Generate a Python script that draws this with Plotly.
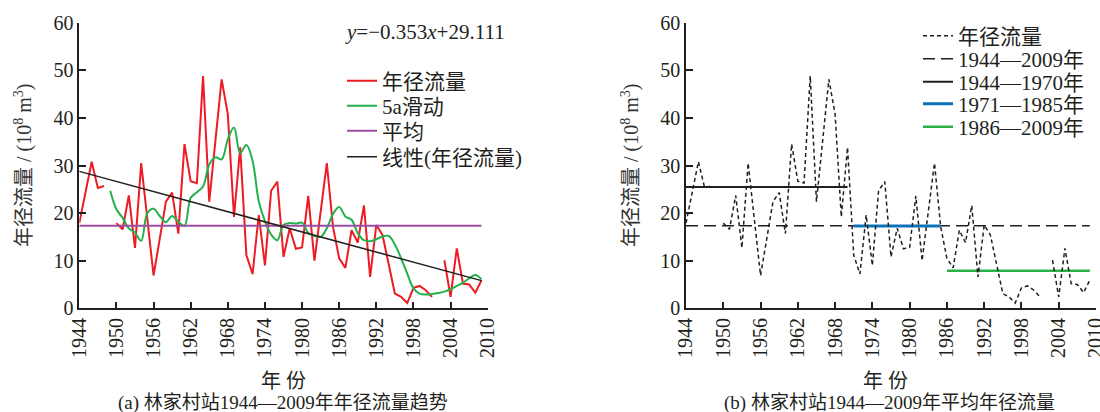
import plotly.graph_objects as go

# ---------------- data ----------------
years = list(range(1944, 2010))
runoff = [17.9, 24.3, 30.8, 25.3, 25.7, None, 17.9, 16.6, 23.7, 12.7,
          30.5, 18.7, 6.9, 14.6, 22.4, 24.3, 15.7, 34.5, 26.7, 26.3,
          48.8, 22.4, 35.0, 48.1, 40.8, 19.2, 33.8, 11.2, 7.2, 19.6,
          9.0, 24.7, 26.6, 10.8, 16.8, 12.5, 12.8, 23.6, 10.0, 20.0,
          30.5, 17.1, 10.5, 8.5, 16.4, 13.8, 21.6, 6.6, 17.5, 15.4,
          9.0, 3.1, 2.4, 1.1, 4.3, 4.7, 3.8, 2.4, None, 10.1,
          2.4, 12.6, 5.2, 5.0, 3.3, 5.9]

ma_years = list(range(1949, 2010))
ma5 = [24.7, 20.8, 19.0, 16.8, 15.9, 14.2, 20.0, 20.9, 19.4, 18.1,
       19.4, 18.2, 17.3, 23.2, 24.4, 25.6, 30.2, 31.7, 31.3, 35.5,
       38.0, 32.6, 34.3, 31.0, 22.5, 18.3, 15.5, 14.3, 17.5, 17.9,
       17.8, 18.0, 15.8, 15.2, 15.0, 16.8, 19.8, 21.3, 19.3, 18.6,
       15.8, 14.3, 14.1, 14.5, 15.1, 15.2, 13.4, 10.5, 7.3, 4.2,
       3.1, 2.9, 3.0, 3.2, 3.5, 4.0, 4.7, 5.4, 6.3, 7.0, 6.1]

mean_years = [1944, 2009]
mean_all = 17.35
trend_years = [1944, 2009]
trend_vals = [28.76, 5.81]

period_labels = ["1944\u20141970年", "1971\u20141985年", "1986\u20142009年"]
period_starts = [1944, 1971, 1986]
period_ends = [1970, 1985, 2009]
period_means = [25.5, 17.3, 7.9]

x_ticks = [1944, 1950, 1956, 1962, 1968, 1974, 1980, 1986, 1992, 1998, 2004, 2010]
y_ticks = [0, 10, 20, 30, 40, 50, 60]

# ---------------- styling ----------------
FONT = "Liberation Serif, Noto Sans CJK SC, serif"
TXT = "#231f20"
W, H = 1100, 412


def px_x(p):
    return p / W


def px_y(p):
    return 1 - p / H


period_colors = ["#231f20", "#0b72b9", "#2bb04a"]
period_widths = [2, 3, 2.5]

# legend rows (pixel centres) for each legend item
left_leg_rows = [81, 106, 131, 157]
right_leg_rows = [36, 59, 82, 104, 127]
LEFT_LEG_X = 342
RIGHT_LEG_X = 918

fig = go.Figure()

# left panel
fig.add_trace(go.Scatter(x=years, y=runoff, mode="lines", name="年径流量",
                         line=dict(color="#ed1c24", width=2), connectgaps=False,
                         xaxis="x", yaxis="y", legend="legend"))
fig.add_trace(go.Scatter(x=ma_years, y=ma5, mode="lines", name="5a滑动",
                         line=dict(color="#22b14c", width=2, shape="spline", smoothing=1),
                         xaxis="x", yaxis="y", legend="legend2"))
fig.add_trace(go.Scatter(x=mean_years, y=[mean_all, mean_all], mode="lines", name="平均",
                         line=dict(color="#9b4d9f", width=2),
                         xaxis="x", yaxis="y", legend="legend3"))
fig.add_trace(go.Scatter(x=trend_years, y=trend_vals, mode="lines", name="线性(年径流量)",
                         line=dict(color="#231f20", width=1.5),
                         xaxis="x", yaxis="y", legend="legend4"))

# right panel
fig.add_trace(go.Scatter(x=mean_years, y=[mean_all, mean_all], mode="lines", name="1944\u20142009年",
                         line=dict(color="#231f20", width=1.5, dash="12px,6px"),
                         xaxis="x2", yaxis="y2", legend="legend6"))
for k, (lab, s, e, m, c, w) in enumerate(zip(period_labels, period_starts, period_ends,
                                             period_means, period_colors, period_widths)):
    fig.add_trace(go.Scatter(x=[s, e], y=[m, m], mode="lines", name=lab,
                             line=dict(color=c, width=w),
                             xaxis="x2", yaxis="y2", legend="legend%d" % (7 + k)))
fig.add_trace(go.Scatter(x=years, y=runoff, mode="lines", name="年径流量",
                         line=dict(color="#231f20", width=1.5, dash="4px,3px"), connectgaps=False,
                         xaxis="x2", yaxis="y2", legend="legend5"))

for tr in fig.data:
    tr.showlegend = True

ydom = [px_y(308.3), px_y(22.7)]
axis_common = dict(showline=True, linecolor="#231f20", linewidth=1.5, showgrid=False,
                   zeroline=False, ticks="inside", ticklen=7, tickwidth=1.5, automargin=False,
                   ticklabeloverflow="allow",
                   tickcolor="#231f20", tickfont=dict(family=FONT, size=20, color=TXT))

layout = dict(
    width=W, height=H, margin=dict(l=0, r=0, t=0, b=0, autoexpand=False),
    paper_bgcolor="white", plot_bgcolor="white", showlegend=True,
    font=dict(family=FONT, color=TXT),
    xaxis=dict(domain=[px_x(79.3), px_x(487.7)], range=[1944, 2010], tickvals=x_ticks,
               tickangle=-90, anchor="y", **axis_common),
    yaxis=dict(domain=ydom, range=[0, 60], tickvals=y_ticks, anchor="x", **axis_common),
    xaxis2=dict(domain=[px_x(686), px_x(1096)], range=[1944, 2010], tickvals=x_ticks,
                tickangle=-90, anchor="y2", **axis_common),
    yaxis2=dict(domain=ydom, range=[0, 60], tickvals=y_ticks, anchor="x2", **axis_common),
)

leg_common = dict(xanchor="left", yanchor="middle", bgcolor="rgba(0,0,0,0)",
                  font=dict(family=FONT, size=21, color=TXT), borderwidth=0, visible=True)
for k, row in enumerate(left_leg_rows):
    key = "legend" if k == 0 else "legend%d" % (k + 1)
    layout[key] = dict(x=px_x(LEFT_LEG_X), y=px_y(row), **leg_common)
for k, row in enumerate(right_leg_rows):
    layout["legend%d" % (k + 5)] = dict(x=px_x(RIGHT_LEG_X), y=px_y(row), **leg_common)

fig.update_layout(**layout)

annos = [
    dict(text="<i>y</i>=\u22120.353<i>x</i>+29.111", x=px_x(343), y=px_y(32), xanchor="left",
         yanchor="middle", size=21, color=TXT),
    dict(text="年径流量 / (10<sup>8</sup> m<sup>3</sup>)", x=px_x(23), y=px_y(166),
         textangle=-90, xanchor="center", yanchor="middle", size=20, color="#333333"),
    dict(text="年径流量 / (10<sup>8</sup> m<sup>3</sup>)", x=px_x(630), y=px_y(166),
         textangle=-90, xanchor="center", yanchor="middle", size=20, color="#333333"),
    dict(text="年 份", x=px_x(283), y=px_y(381), xanchor="center", yanchor="middle",
         size=20, color=TXT),
    dict(text="年 份", x=px_x(885), y=px_y(381), xanchor="center", yanchor="middle",
         size=20, color=TXT),
    dict(text="(a) 林家村站1944\u20142009年年径流量趋势", x=px_x(283), y=px_y(403),
         xanchor="center", yanchor="middle", size=19, color=TXT),
    dict(text="(b) 林家村站1944\u20142009年平均年径流量", x=px_x(889), y=px_y(403),
         xanchor="center", yanchor="middle", size=19, color=TXT),
]
ann_list = []
for a in annos:
    size = a.pop("size")
    color = a.pop("color")
    a.update(xref="paper", yref="paper", showarrow=False,
             font=dict(family=FONT, size=size, color=color))
    ann_list.append(a)
fig.update_layout(annotations=ann_list)

fig.write_html("out.html")
